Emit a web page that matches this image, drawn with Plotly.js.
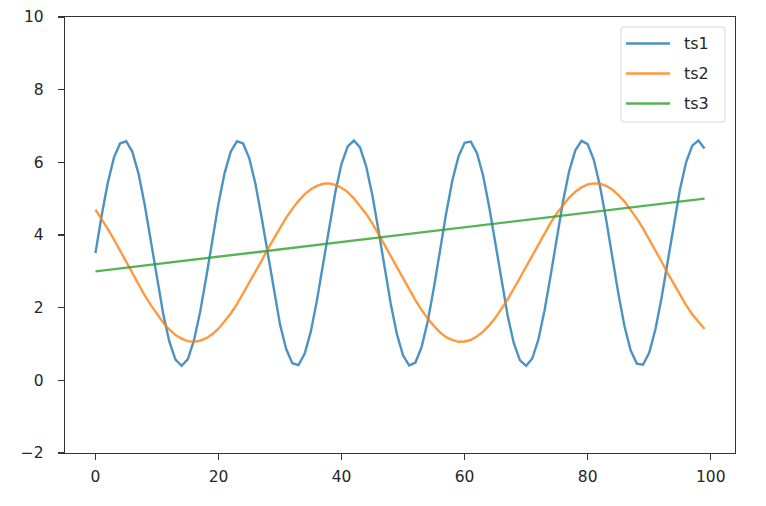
<!DOCTYPE html>
<html>
<head>
<meta charset="utf-8">
<script src="https://cdn.plot.ly/plotly-3.0.1.min.js"></script>
<style>html,body{margin:0;padding:0;background:#fff;}#chart{width:766px;height:506px;}</style>
</head>
<body>
<div id="chart"></div>
<script>
const xIndex = [0,1,2,3,4,5,6,7,8,9,10,11,12,13,14,15,16,17,18,19,20,21,22,23,24,25,26,27,28,29,30,31,32,33,34,35,36,37,38,39,40,41,42,43,44,45,46,47,48,49,50,51,52,53,54,55,56,57,58,59,60,61,62,63,64,65,66,67,68,69,70,71,72,73,74,75,76,77,78,79,80,81,82,83,84,85,86,87,88,89,90,91,92,93,94,95,96,97,98,99];

const ts1 = [3.50,4.53,5.43,6.13,6.52,6.58,6.29,5.69,4.84,3.84,2.80,1.84,1.07,0.57,0.40,0.58,1.09,1.87,2.83,3.87,
4.87,5.71,6.30,6.58,6.52,6.11,5.41,4.49,3.47,2.44,1.54,0.86,0.47,0.42,0.73,1.34,2.20,3.20,4.24,5.19,
5.96,6.44,6.60,6.41,5.89,5.10,4.13,3.10,2.10,1.27,0.68,0.41,0.49,0.91,1.62,2.54,3.57,4.59,5.49,6.16,
6.54,6.57,6.26,5.64,4.77,3.77,2.73,1.78,1.02,0.55,0.40,0.60,1.13,1.93,2.90,3.94,4.93,5.76,6.33,6.59,
6.50,6.07,5.35,4.43,3.40,2.38,1.48,0.82,0.46,0.43,0.76,1.39,2.26,3.27,4.30,5.25,6.00,6.46,6.60,6.38];

const ts2 = [4.70,4.45,4.17,3.88,3.57,3.26,2.95,2.64,2.34,2.07,1.82,1.59,1.40,1.25,1.15,1.08,1.06,1.09,1.16,1.27,
1.42,1.62,1.84,2.10,2.39,2.67,2.98,3.29,3.61,3.91,4.21,4.48,4.72,4.94,5.12,5.26,5.35,5.41,5.42,5.38,
5.30,5.18,5.01,4.81,4.58,4.32,4.04,3.73,3.42,3.11,2.80,2.49,2.21,1.94,1.70,1.50,1.32,1.19,1.11,1.06,
1.07,1.11,1.21,1.34,1.51,1.72,1.97,2.23,2.52,2.82,3.13,3.45,3.76,4.06,4.34,4.60,4.83,5.03,5.19,5.31,
5.39,5.42,5.41,5.35,5.25,5.10,4.92,4.70,4.45,4.18,3.89,3.58,3.27,2.95,2.65,2.35,2.07,1.82,1.60,1.41];

const ts3 = [3.00,3.02,3.04,3.06,3.08,3.10,3.12,3.14,3.16,3.18,3.20,3.22,3.24,3.26,3.28,3.30,3.32,3.34,3.36,3.38,
3.40,3.42,3.44,3.46,3.48,3.51,3.53,3.55,3.57,3.59,3.61,3.63,3.65,3.67,3.69,3.71,3.73,3.75,3.77,3.79,
3.81,3.83,3.85,3.87,3.89,3.91,3.93,3.95,3.97,3.99,4.01,4.03,4.05,4.07,4.09,4.11,4.13,4.15,4.17,4.19,
4.21,4.23,4.25,4.27,4.29,4.31,4.33,4.35,4.37,4.39,4.41,4.43,4.45,4.47,4.49,4.52,4.54,4.56,4.58,4.60,
4.62,4.64,4.66,4.68,4.70,4.72,4.74,4.76,4.78,4.80,4.82,4.84,4.86,4.88,4.90,4.92,4.94,4.96,4.98,5.00];

const seriesNames = ['ts1','ts2','ts3'];
const seriesColors = ['rgba(31,119,180,0.8)','rgba(255,127,14,0.8)','rgba(44,160,44,0.8)'];
const xTicks = [0,20,40,60,80,100];
const yTicks = [-2,0,2,4,6,8,10];

const allSeries = [ts1, ts2, ts3];
const traces = allSeries.map((ys, k) => ({
  x: xIndex, y: ys, type: 'scatter', mode: 'lines', name: seriesNames[k],
  showlegend: false,
  line: {color: seriesColors[k], width: 2.4}
}));

// plot-area pixel geometry (used only to place the legend box)
const W = 766, H = 506, M = {l: 65, r: 31, t: 17, b: 53};
const PW = W - M.l - M.r, PH = H - M.t - M.b;
const px = v => (v - M.l) / PW;
const py = v => (H - M.b - v) / PH;

// custom matplotlib-style legend
const shapes = [];
const annotations = [];
const bx0 = 621, bx1 = 725, by0 = 27, by1 = 122, r = 3;
const rx = r / PW, ry = r / PH;
const X0 = px(bx0), X1 = px(bx1), Y0 = py(by1), Y1 = py(by0);
shapes.push({
  type: 'path', xref: 'paper', yref: 'paper',
  path: `M ${X0+rx},${Y0} L ${X1-rx},${Y0} Q ${X1},${Y0} ${X1},${Y0+ry} L ${X1},${Y1-ry} Q ${X1},${Y1} ${X1-rx},${Y1} L ${X0+rx},${Y1} Q ${X0},${Y1} ${X0},${Y1-ry} L ${X0},${Y0+ry} Q ${X0},${Y0} ${X0+rx},${Y0} Z`,
  fillcolor: 'rgba(255,255,255,0.8)', line: {color: '#d6d6d6', width: 1}, layer: 'above'
});
seriesNames.forEach((name, k) => {
  const yy = py(43.5 + 30 * k);
  shapes.push({type: 'line', xref: 'paper', yref: 'paper', x0: px(626), x1: px(670), y0: yy, y1: yy,
    line: {color: seriesColors[k], width: 2.4}, layer: 'above'});
  annotations.push({xref: 'paper', yref: 'paper', x: px(682), y: yy, xanchor: 'left', yanchor: 'middle',
    text: name, showarrow: false, font: {family: 'DejaVu Sans', size: 16, color: '#262626'}});
});

const axisCommon = {
  showgrid: false, zeroline: false, showline: true, mirror: true,
  linecolor: '#333', linewidth: 1.2, ticks: 'outside', ticklen: 6, tickwidth: 1.2, tickcolor: '#333',
  tickfont: {family: 'DejaVu Sans', size: 15.5, color: '#262626'}
};

const layout = {
  width: W, height: H,
  margin: M,
  paper_bgcolor: '#fff', plot_bgcolor: '#fff',
  xaxis: Object.assign({}, axisCommon, {range: [-4.95, 103.95], tickvals: xTicks, ticklabelstandoff: 3}),
  yaxis: Object.assign({}, axisCommon, {range: [-2, 10], tickvals: yTicks, ticklabelstandoff: 11}),
  showlegend: false,
  shapes: shapes,
  annotations: annotations
};

Plotly.newPlot('chart', traces, layout, {displayModeBar: false, staticPlot: true});
</script>
</body>
</html>
